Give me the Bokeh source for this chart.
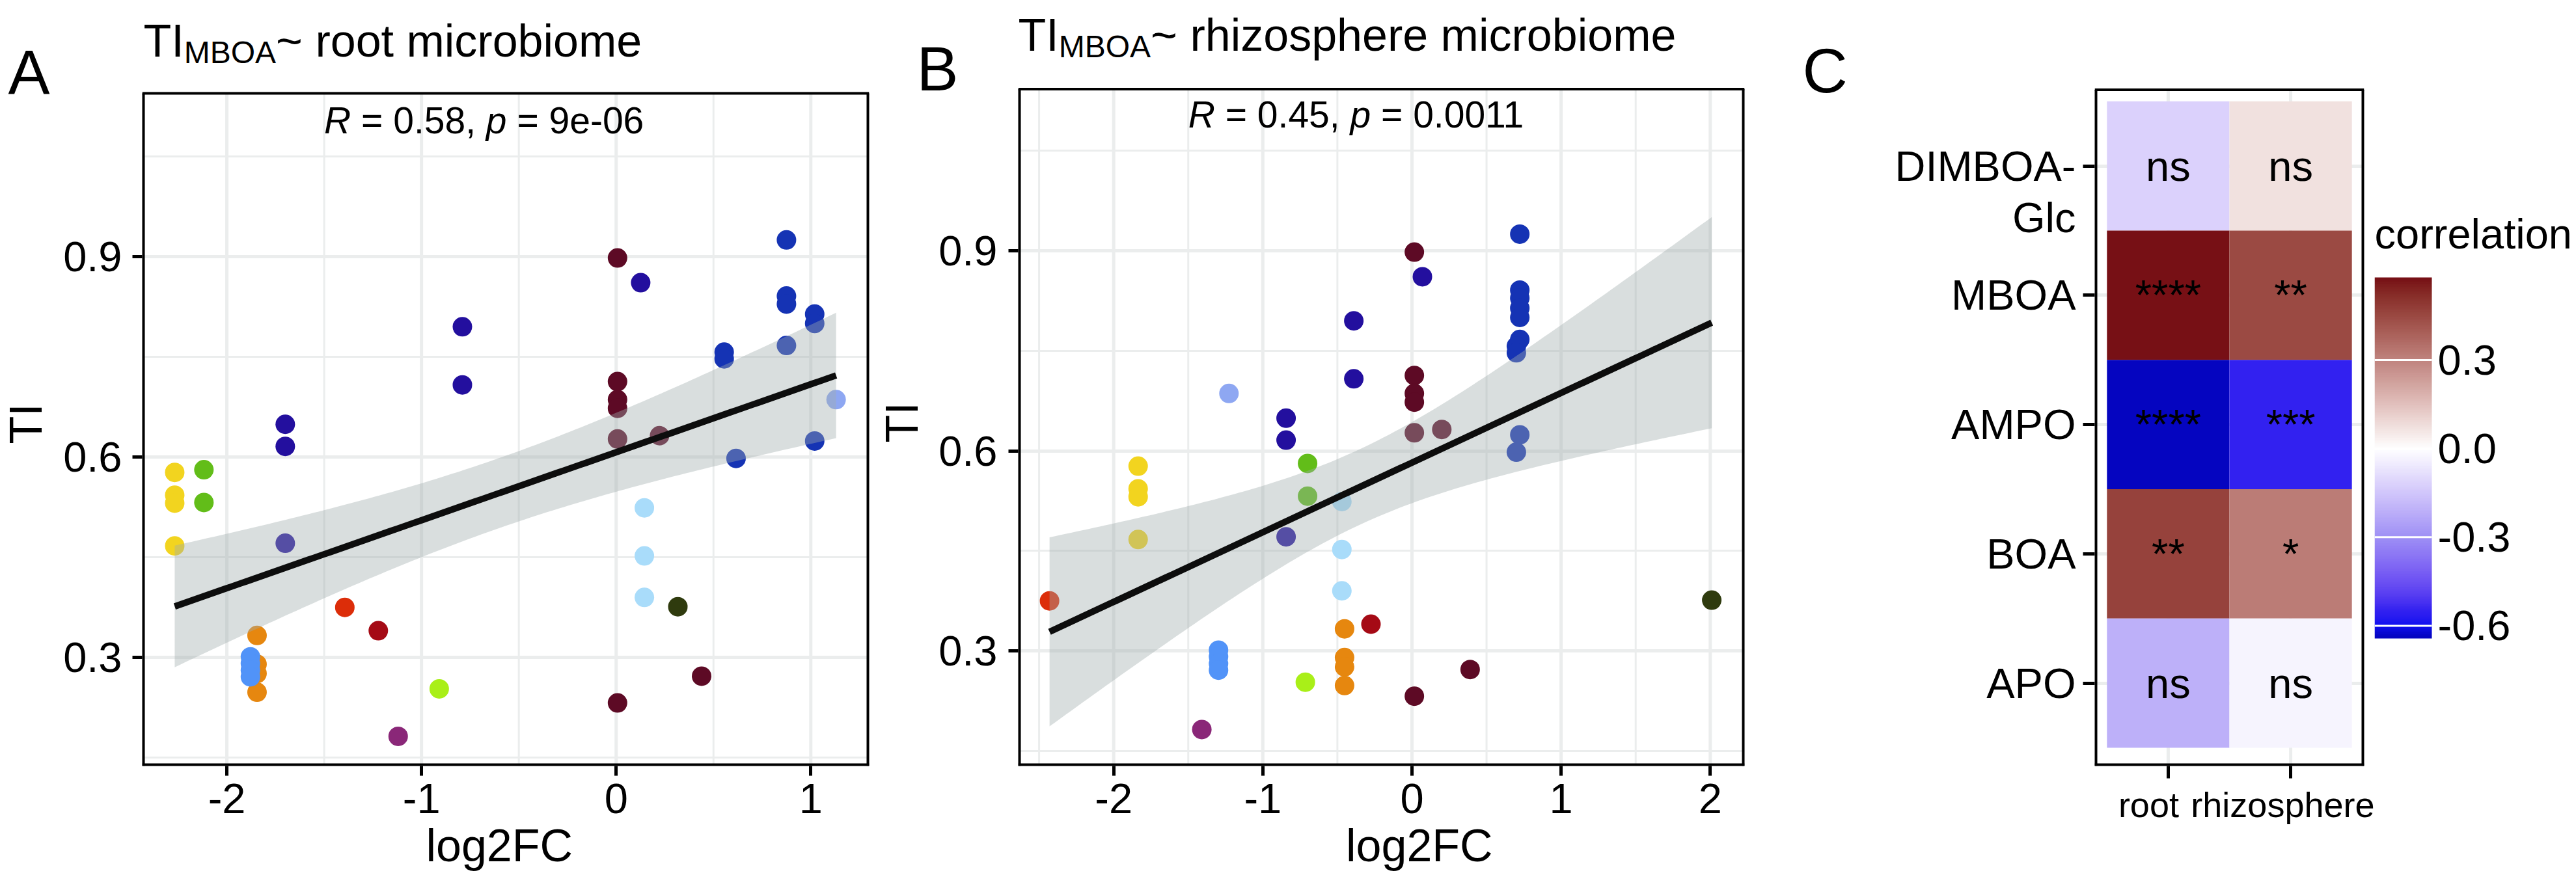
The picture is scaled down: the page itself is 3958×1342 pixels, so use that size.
import math
import numpy as np
from bokeh.plotting import figure
from bokeh.models import FixedTicker, ColumnDataSource, LinearColorMapper, Range1d
from bokeh.layouts import row
from bokeh.transform import factor_cmap
from bokeh.embed import file_html
from bokeh.resources import INLINE
from bokeh.core.properties import value

FONT = "Liberation Sans"

# ---------------------------------------------------------------- data
# one entry per bacterial strain: tolerance index, taxon colour group,
# log2 fold change in the root and in the rhizosphere microbiome
TI = [0.925, 0.898, 0.861, 0.841, 0.829, 0.814, 0.800, 0.767, 0.795, 0.757,
      0.747, 0.708, 0.713, 0.686, 0.673, 0.686, 0.649, 0.616, 0.627, 0.632,
      0.624, 0.598, 0.577, 0.543, 0.531, 0.467, 0.581, 0.532, 0.471, 0.333,
      0.290, 0.276, 0.248, 0.301, 0.291, 0.281, 0.271, 0.375, 0.340, 0.524,
      0.452, 0.390, 0.376, 0.272, 0.232, 0.253, 0.182]
GROUP = ["blue", "maroon", "indigo", "blue", "blue", "blue", "blue", "blue", "indigo", "blue",
         "blue", "indigo", "maroon", "maroon", "maroon", "peri", "indigo", "indigo", "maroon", "maroon",
         "blue", "blue", "yellow", "yellow", "yellow", "yellow", "green", "green", "indigo", "orange",
         "orange", "orange", "orange", "cblue", "cblue", "cblue", "cblue", "redorange", "darkred", "pale",
         "pale", "pale", "olive", "maroon", "maroon", "ygreen", "purple"]
LOG2FC_ROOT = [0.875, 0.007, 0.126, 0.875, 0.875, 1.02, 1.02, 0.875, -0.79, 0.555,
               0.555, -0.79, 0.007, 0.007, 0.007, 1.13, -1.70, -1.70, 0.007, 0.223,
               1.02, 0.616, -2.268, -2.268, -2.268, -2.268, -2.118, -2.118, -1.70, -1.845,
               -1.845, -1.845, -1.845, -1.879, -1.879, -1.879, -1.879, -1.394, -1.222, 0.145,
               0.145, 0.145, 0.317, 0.439, 0.007, -0.909, -1.12]
LOG2FC_RHIZO = [0.723, 0.016, 0.07, 0.723, 0.723, 0.723, 0.723, 0.723, -0.39, 0.70,
                0.70, -0.39, 0.016, 0.016, 0.016, -1.227, -0.844, -0.844, 0.016, 0.20,
                0.723, 0.70, -1.836, -1.836, -1.836, -1.836, -0.70, -0.70, -0.844, -0.452,
                -0.452, -0.452, -0.452, -1.297, -1.297, -1.297, -1.297, -2.43, -0.275, -0.47,
                -0.47, -0.47, 2.01, 0.39, 0.016, -0.715, -1.409]

GROUP_NAMES = ["blue", "maroon", "indigo", "peri", "yellow", "green", "orange", "cblue",
               "redorange", "darkred", "pale", "olive", "ygreen", "purple"]
GROUP_COLORS = ["#1533B4", "#5D0A25", "#230F9E", "#8EA7F2", "#F2D41F", "#62BD19", "#E6870F",
                "#5193F8", "#DC2D09", "#A50A15", "#A9DCFA", "#2F3B0E", "#A9EF18", "#8A2778"]

X_TICKS_A = [-2, -1, 0, 1]
X_MINOR_A = [-1.5, -0.5, 0.5]
X_TICKS_B = [-2, -1, 0, 1, 2]
X_MINOR_B = [-2.5, -1.5, -0.5, 0.5, 1.5]
Y_TICKS = [0.3, 0.6, 0.9]
Y_MINOR = [0.15, 0.45, 0.75, 1.05]

STAT_A = ["R", "= 0.58,", "p", "= 9e-06"]
STAT_B = ["R", "= 0.45,", "p", "= 0.0011"]
TITLE_A = ["TI", "MBOA", "~ root microbiome"]
TITLE_B = ["TI", "MBOA", "~ rhizosphere microbiome"]

# panel C: correlation heat map
COMPOUNDS = ["DIMBOA-Glc", "MBOA", "AMPO", "BOA", "APO"]
COMPARTMENTS = ["root", "rhizosphere"]
CORR_ROOT = [-0.12, 0.58, -0.643, 0.47, -0.21]
CORR_RHIZO = [0.07, 0.45, -0.55, 0.32, -0.03]
SIG_ROOT = ["ns", "****", "****", "**", "ns"]
SIG_RHIZO = ["ns", "**", "***", "*", "ns"]
LEGEND_TICKS = [0.3, 0.0, -0.3, -0.6]

# ---------------------------------------------------------------- helpers
ARIAL_W = {"T": 611, "I": 278, "M": 833, "B": 667, "O": 778, "A": 667, "~": 584, " ": 278,
           "r": 333, "o": 556, "t": 278, "m": 833, "i": 222, "c": 500, "b": 556, "e": 556,
           "h": 556, "z": 500, "s": 500, "p": 556, "R": 722, "=": 584, ".": 278, ",": 278,
           "-": 333}
NBSP = "\u00a0"
MID = 0.3465        # distance (em) from the alphabetic baseline up to the "middle" anchor


def text_width(s, size):
    return sum(ARIAL_W.get(ch, 556) for ch in s) * size / 1000.0


def _hex(h):
    return np.array([int(h[i:i + 2], 16) for i in (1, 3, 5)]) / 255.0


_WHITE = np.array([0.95047, 1.0, 1.08883])


def _to_lab(h):
    c = _hex(h)
    lin = np.where(c <= 0.04045, c / 12.92, ((c + 0.055) / 1.055) ** 2.4)
    M = np.array([[0.4124, 0.3576, 0.1805], [0.2126, 0.7152, 0.0722], [0.0193, 0.1192, 0.9505]])
    xyz = M @ lin / _WHITE
    d = 6 / 29
    f = np.where(xyz > d ** 3, np.cbrt(xyz), xyz / (3 * d * d) + 4 / 29)
    return np.array([116 * f[1] - 16, 500 * (f[0] - f[1]), 200 * (f[1] - f[2])])


def _from_lab(lab):
    L, a, b = lab
    fy = (L + 16) / 116
    f = np.array([fy + a / 500, fy, fy - b / 200])
    d = 6 / 29
    xyz = np.where(f > d, f ** 3, 3 * d * d * (f - 4 / 29)) * _WHITE
    Minv = np.array([[3.2406, -1.5372, -0.4986], [-0.9689, 1.8758, 0.0415], [0.0557, -0.2040, 1.0570]])
    lin = np.clip(Minv @ xyz, 0, 1)
    c = np.where(lin <= 0.0031308, 12.92 * lin, 1.055 * lin ** (1 / 2.4) - 0.055)
    return "#%02x%02x%02x" % tuple(int(round(v * 255)) for v in np.clip(c, 0, 1))


# colour stops of the fill scale (value, colour)
SCALE_STOPS = [(-0.643, "#0505C0"), (-0.60, "#1010F0"), (-0.55, "#3322F0"), (-0.30, "#9E90F5"),
               (0.0, "#FFFFFF"), (0.30, "#C0847F"), (0.58, "#771015")]


def gradient(stops, lo, hi, n=256):
    vals = [s[0] for s in stops]
    labs = [_to_lab(s[1]) for s in stops]
    out = []
    for v in np.linspace(lo, hi, n):
        v = min(max(v, vals[0]), vals[-1])
        k = 0
        while k < len(vals) - 2 and v > vals[k + 1]:
            k += 1
        t = (v - vals[k]) / (vals[k + 1] - vals[k])
        out.append(_from_lab(labs[k] + (labs[k + 1] - labs[k]) * t))
    return out


def lm_band(x, y, n=120):
    x = np.asarray(x, float)
    y = np.asarray(y, float)
    N = len(x)
    xm = x.mean()
    sxx = ((x - xm) ** 2).sum()
    b1 = ((x - xm) * (y - y.mean())).sum() / sxx
    b0 = y.mean() - b1 * xm
    s = np.sqrt(((y - b0 - b1 * x) ** 2).sum() / (N - 2))
    df = N - 2
    z = 1.959964
    t = z + (z ** 3 + z) / (4 * df) + (5 * z ** 5 + 16 * z ** 3 + 3 * z) / (96 * df ** 2)
    gx = np.linspace(x.min(), x.max(), n)
    fit = b0 + b1 * gx
    se = s * np.sqrt(1.0 / N + (gx - xm) ** 2 / sxx)
    return gx, fit, fit - t * se, fit + t * se


def style_axis(ax, tick_len=15, label_size="65px", standoff=12):
    ax.axis_line_color = None
    ax.major_tick_out = tick_len
    ax.major_tick_in = 0
    ax.major_tick_line_width = 5
    ax.major_tick_line_color = "black"
    ax.minor_tick_line_color = None
    ax.major_label_text_font = FONT
    ax.major_label_text_font_size = label_size
    ax.major_label_text_color = "black"
    ax.major_label_standoff = standoff


def blank_fig(width, xr, yr):
    p = figure(width=width, height=H, x_range=xr, y_range=yr,
               x_axis_location=None, y_axis_location=None,
               output_backend="svg", toolbar_location=None,
               min_border_left=0, min_border_right=0, min_border_top=0, min_border_bottom=BOTTOM)
    p.outline_line_color = None
    p.grid.visible = False
    return p


def txt(p, x, y, t, size, align="left", baseline="alphabetic", yo=0.0, **kw):
    """text; an 'alphabetic' request puts the baseline at (x, y) via a middle anchor"""
    if baseline == "alphabetic":
        baseline = "middle"
        yo = yo - MID * size
    p.text(x=x, y=y, text=t, text_font=value(FONT), text_font_size="%dpx" % size,
           text_color="black", text_align=align, text_baseline=baseline, y_offset=yo, **kw)


def panel_grid(p, y0, y1, vlines_major, vlines_minor):
    """vertical grid lines that stop at the panel border"""
    for xs, w in ((vlines_minor, 3), (vlines_major, 5)):
        if xs:
            p.segment(x0=xs, x1=xs, y0=[y0] * len(xs), y1=[y1] * len(xs),
                      line_color=GRID, line_width=w)


def panel_border(p, x0, x1, y0, y1):
    p.segment(x0=[x0, x1, x0, x0], x1=[x0, x1, x1, x1], y0=[y0, y0, y0, y1],
              y1=[y1, y1, y0, y1], line_color="black", line_width=[8, 8, 8, 4])


GRID = "#EBEDED"
H = 1342
FRAME_BOTTOM = 1177
BOTTOM = H - FRAME_BOTTOM


def scatter_panel(xvals, xr, y09, ppu, top_px, xticks, xminor, width, bl, br, stat, xlabel,
                  title, title_base, title_dx):
    def v(px):
        return 0.9 - (px - y09) / ppu
    yr = Range1d(v(FRAME_BOTTOM), v(0))
    ytop = v(top_px)
    p = figure(width=width, height=H, x_range=Range1d(*xr), y_range=yr,
               output_backend="svg", toolbar_location=None,
               min_border_left=bl, min_border_right=br, min_border_top=0, min_border_bottom=BOTTOM)
    p.outline_line_color = None
    yt = FixedTicker(ticks=Y_TICKS, minor_ticks=Y_MINOR)
    p.yaxis.ticker = yt
    p.ygrid.ticker = yt
    p.ygrid.grid_line_color = GRID
    p.ygrid.grid_line_width = 5
    p.ygrid.minor_grid_line_color = GRID
    p.ygrid.minor_grid_line_width = 3
    p.xgrid.visible = False
    p.xaxis.ticker = FixedTicker(ticks=xticks)
    style_axis(p.xaxis[0], standoff=12)
    style_axis(p.yaxis[0], standoff=0)
    p.xaxis.major_label_overrides = {t: str(t) for t in xticks}
    p.yaxis.major_label_overrides = {t: "" for t in Y_TICKS}
    p.xaxis.axis_label = xlabel
    p.xaxis.axis_label_text_font = FONT
    p.xaxis.axis_label_text_font_size = "70px"
    p.xaxis.axis_label_text_font_style = "normal"
    p.xaxis.axis_label_text_color = "black"
    p.xaxis.axis_label_standoff = 8

    panel_grid(p, yr.start, ytop, xticks, xminor)

    src = ColumnDataSource(dict(x=xvals, y=TI, g=GROUP))
    p.scatter("x", "y", source=src, size=30, line_color=None,
              fill_color=factor_cmap("g", GROUP_COLORS, GROUP_NAMES))
    gx, fit, lo, hi = lm_band(xvals, TI)
    p.varea(x=gx, y1=lo, y2=hi, fill_color="#A0ACAC", fill_alpha=0.4)
    p.line(gx, fit, line_color="#0D0D0D", line_width=10)

    # correlation statistic (italic R and p); SVG drops edge spaces, so offsets carry them
    size = 57
    full = [stat[0] + " ", stat[1] + " ", stat[2] + " ", stat[3]]
    offs = np.cumsum([0] + [text_width(s, size) for s in full[:-1]]).tolist()
    ssrc = ColumnDataSource(dict(x=[-1.5] * 4, y=[1.085] * 4, t=stat, o=offs,
                                 st=["italic", "normal", "italic", "normal"]))
    p.text("x", "y", text="t", x_offset="o", y_offset=-MID * size, text_font_style="st",
           source=ssrc, text_font=value(FONT), text_font_size="%dpx" % size,
           text_color="black", text_align="left", text_baseline="middle")

    panel_border(p, xr[0], xr[1], yr.start, ytop)

    # panel title with subscript, above the panel border
    rise = top_px - title_base
    d1 = title_dx + text_width(title[0], 70)
    d2 = d1 + text_width(title[1], 48)
    tsrc = ColumnDataSource(dict(x=[xr[0]] * 3, y=[ytop] * 3, t=title, xo=[title_dx, d1, d2],
                                 yo=[-rise - MID * 70, -rise + 10 - MID * 48, -rise - MID * 70],
                                 s=["70px", "48px", "70px"]))
    p.text("x", "y", text="t", x_offset="xo", y_offset="yo", text_font_size="s", source=tsrc,
           text_font=value(FONT), text_color="black", text_align="left",
           text_baseline="middle")
    return p, v, ytop


# page x layout: sA 0-200 | A 200-1345 | sB 1345-1546 | B 1546-2700 | sC 2700-3190 | C 3190-3648 | legend 3648-3958
pA, vA, topA = scatter_panel(LOG2FC_ROOT, (-2.435, 1.30), 394, 1027, 143, X_TICKS_A, X_MINOR_A,
                             1145, 18, 10, STAT_A, "log2FC" + NBSP, TITLE_A, 87, 2)
pB, vB, topB = scatter_panel(LOG2FC_RHIZO, (-2.64, 2.23), 385, 1025, 136.6, X_TICKS_B, X_MINOR_B,
                             1154, 18, 20, STAT_B, NBSP * 6 + "log2FC", TITLE_B, 78, 0)


def left_strip(x0, x1, yrange, letter, letter_x, letter_y, tick_right, title_x, title_y):
    s = blank_fig(x1 - x0, Range1d(x0, x1), yrange)
    txt(s, [letter_x], [letter_y], [letter], 96)
    txt(s, [tick_right] * len(Y_TICKS), Y_TICKS, [str(t) for t in Y_TICKS], 65,
        align="right", baseline="middle")
    # rotated axis title: baseline at title_x, so the middle anchor sits MID em to its left
    txt(s, [title_x - MID * 70], [title_y], ["TI"], 70, align="center", baseline="middle",
        angle=math.pi / 2)
    return s


sA = left_strip(0, 200, pA.y_range, "A", 12, topA, 187, 64, vA(651))
sB = left_strip(1345, 1546, pB.y_range, "B", 1408, vB(138), 1532, 1410, vB(649))

# ---------------------------------------------------------------- panel C
rmin = min(CORR_ROOT + CORR_RHIZO)
rmax = max(CORR_ROOT + CORR_RHIZO)
mapper = LinearColorMapper(palette=gradient(SCALE_STOPS, rmin, rmax), low=rmin, high=rmax)

ncomp = len(COMPOUNDS)
ypos = {c: ncomp - i for i, c in enumerate(COMPOUNDS)}
xpos = {c: i + 1 for i, c in enumerate(COMPARTMENTS)}
hx, hy, hr, hs = [], [], [], []
for i, c in enumerate(COMPOUNDS):
    for comp, vals, sig in (("root", CORR_ROOT, SIG_ROOT), ("rhizosphere", CORR_RHIZO, SIG_RHIZO)):
        hx.append(xpos[comp])
        hy.append(ypos[c])
        hr.append(vals[i])
        hs.append(sig[i])

ROW_PX = 198.75          # pixels per heat-map row
TOPROW_PX = 254.5        # page y of the first row centre


def vC(px):
    return ncomp - (px - TOPROW_PX) / ROW_PX


cyr = Range1d(vC(FRAME_BOTTOM), vC(0))
topC = vC(137.5)
pC = figure(width=458, height=H, x_range=Range1d(0.4, 2.6), y_range=cyr,
            output_backend="svg", toolbar_location=None,
            min_border_left=28, min_border_right=16, min_border_top=0, min_border_bottom=BOTTOM)
pC.outline_line_color = None
cxt = FixedTicker(ticks=list(xpos.values()))
cyt = FixedTicker(ticks=sorted(ypos.values()))
pC.xaxis.ticker = cxt
pC.yaxis.ticker = cyt
pC.xgrid.visible = False
pC.ygrid.ticker = cyt
pC.ygrid.grid_line_color = GRID
pC.ygrid.grid_line_width = 5
panel_grid(pC, cyr.start, topC, list(xpos.values()), [])
hsrc = ColumnDataSource(dict(x=hx, y=hy, r=hr, s=hs))
pC.rect("x", "y", width=1, height=1, source=hsrc, line_color=None,
        fill_color={"field": "r", "transform": mapper})
pC.text("x", "y", text="s", source=hsrc, text_font=value(FONT), text_font_size="65px",
        text_color="black", text_align="center", text_baseline="middle")
panel_border(pC, 0.4, 2.6, cyr.start, topC)
style_axis(pC.xaxis[0], tick_len=19, label_size="54px", standoff=10)
style_axis(pC.yaxis[0], tick_len=18, label_size="65px", standoff=0)
xl = {v: k for k, v in xpos.items()}
xl[xpos["root"]] = "root" + NBSP * 4
pC.xaxis.major_label_overrides = xl
pC.yaxis.major_label_overrides = {v: "" for v in ypos.values()}

# compound names and panel letter (left of the heat map, sharing its y scale)
sC = blank_fig(490, Range1d(2700, 3190), cyr)
names = [("DIMBOA-" if c == "DIMBOA-Glc" else c) for c in COMPOUNDS]
txt(sC, [3189] * ncomp, [ypos[c] for c in COMPOUNDS], names, 65, align="right",
    baseline="middle")
txt(sC, [3189], [ypos["DIMBOA-Glc"]], ["Glc"], 65, align="right", baseline="middle", yo=79)
txt(sC, [2769], [vC(141)], ["C"], 96)

# ---------------------------------------------------------------- legend (colour bar)
BAR_TOP, BAR_BOTTOM, BAR_W, LEG_W = 426, 981, 88, 310
spx = (rmax - rmin) / (BAR_BOTTOM - BAR_TOP)
lyr = Range1d(rmin - (FRAME_BOTTOM - BAR_BOTTOM) * spx, rmax + BAR_TOP * spx)
pL = blank_fig(LEG_W, Range1d(0, LEG_W / BAR_W), lyr)
ramp = np.linspace(rmin, rmax, 400).reshape(-1, 1)
pL.image(image=[ramp], x=0, y=rmin, dw=1, dh=rmax - rmin, color_mapper=mapper)
pL.segment(x0=[0] * len(LEGEND_TICKS), x1=[1] * len(LEGEND_TICKS), y0=LEGEND_TICKS,
           y1=LEGEND_TICKS, line_color="white", line_width=3)
txt(pL, [1] * len(LEGEND_TICKS), LEGEND_TICKS, ["%.1f" % t for t in LEGEND_TICKS], 65,
    baseline="middle", x_offset=9)
txt(pL, [0], [rmax], ["correlation"], 65, yo=-44)

layout = row(sA, pA, sB, pB, sC, pC, pL)
open("out.html", "w").write(file_html(layout, INLINE))
